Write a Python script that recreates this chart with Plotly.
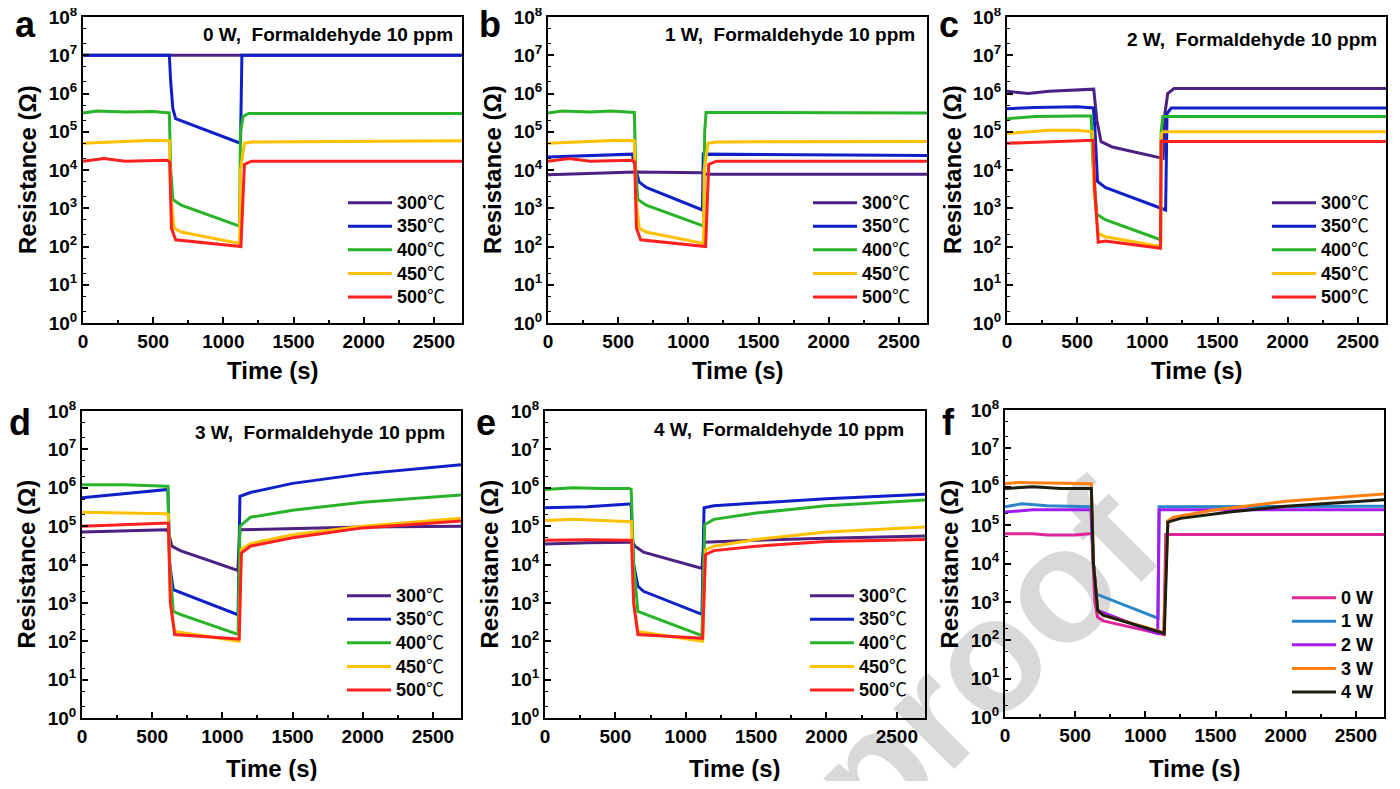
import plotly.graph_objects as go

# ---------------- data (time in s, resistance in ohm) ----------------
# panel a: 0 W
a300_t = [0, 2700]
a300_r = [1e7, 1e7]
a350_t = [0, 615, 625, 640, 660, 1115, 1122, 1132, 2700]
a350_r = [1e7, 1e7, 2e6, 4e5, 2.2e5, 5e4, 5e4, 1e7, 1e7]
a400_t = [0, 100, 300, 500, 615, 625, 640, 700, 1115, 1122, 1140, 1180, 2700]
a400_r = [3.1e5, 3.5e5, 3.3e5, 3.4e5, 3.1e5, 1e4, 1.7e3, 1.2e3, 3.4e2, 1e5, 2.5e5, 3e5, 3e5]
a450_t = [0, 300, 500, 615, 625, 650, 700, 1115, 1122, 1150, 1200, 2700]
a450_r = [5e4, 5.6e4, 6e4, 5.8e4, 2e3, 3e2, 2.4e2, 1.2e2, 1e4, 5e4, 5.4e4, 5.8e4]
a500_t = [0, 150, 300, 600, 618, 630, 660, 1120, 1125, 1150, 1200, 2700]
a500_r = [1.7e4, 2e4, 1.7e4, 1.8e4, 1.6e4, 3e2, 1.5e2, 1e2, 1e2, 1.4e4, 1.7e4, 1.7e4]

# panel b: 1 W
b300_t = [0, 300, 600, 620, 1100, 1110, 2700]
b300_r = [7.5e3, 8e3, 8.5e3, 8.8e3, 8.5e3, 7.8e3, 7.8e3]
b350_t = [0, 600, 625, 650, 700, 1095, 1100, 1106, 2700]
b350_r = [2.2e4, 2.6e4, 1e4, 4.8e3, 3.5e3, 9e2, 9e2, 2.6e4, 2.4e4]
b400_t = [0, 100, 300, 450, 615, 625, 640, 700, 1110, 1116, 1126, 2700]
b400_r = [3.1e5, 3.5e5, 3.3e5, 3.5e5, 3.2e5, 1e4, 1.7e3, 1.2e3, 3.4e2, 1e5, 3.2e5, 3.1e5]
b450_t = [0, 300, 500, 615, 625, 650, 700, 1108, 1113, 1140, 1200, 2700]
b450_r = [5e4, 5.6e4, 6e4, 5.8e4, 2e3, 3e2, 2.4e2, 1.2e2, 1e4, 5e4, 5.4e4, 5.6e4]
b500_t = [0, 150, 300, 600, 618, 630, 660, 1118, 1123, 1145, 1200, 2700]
b500_r = [1.7e4, 2e4, 1.7e4, 1.8e4, 1.6e4, 3e2, 1.5e2, 1e2, 1e2, 1.4e4, 1.7e4, 1.7e4]

# panel c: 2 W
c300_t = [0, 150, 300, 500, 610, 618, 640, 670, 750, 1095, 1112, 1125, 1145, 1190, 2700]
c300_r = [1.15e6, 1e6, 1.15e6, 1.25e6, 1.35e6, 1.3e6, 2e5, 5.5e4, 4e4, 2e4, 2e4, 3e5, 1e6, 1.35e6, 1.35e6]
c350_t = [0, 200, 500, 615, 625, 645, 700, 1100, 1122, 1130, 1140, 1170, 2700]
c350_r = [4e5, 4.3e5, 4.5e5, 4.2e5, 1.5e5, 5e3, 3.5e3, 1e3, 9e2, 9e2, 3e5, 4.2e5, 4.2e5]
c400_t = [0, 200, 500, 600, 610, 640, 700, 1095, 1098, 1110, 2700]
c400_r = [2.2e5, 2.5e5, 2.6e5, 2.6e5, 2e4, 7e2, 5e2, 1.5e2, 1e5, 2.5e5, 2.5e5]
c450_t = [0, 300, 500, 610, 620, 650, 700, 1095, 1100, 1110, 2700]
c450_r = [9e4, 1.1e5, 1.1e5, 1e5, 3e3, 2.2e2, 1.8e2, 1e2, 9e4, 1e5, 1e5]
c500_t = [0, 300, 600, 615, 625, 650, 700, 1093, 1098, 1110, 2700]
c500_r = [5e4, 5.5e4, 6e4, 6e4, 3e3, 1.3e2, 1.4e2, 9e1, 6e4, 5.6e4, 5.6e4]

# panel d: 3 W
d300_t = [0, 300, 600, 615, 640, 700, 1105, 1110, 1125, 1500, 2000, 2700]
d300_r = [7e4, 7.5e4, 8e4, 7e4, 3e4, 2.3e4, 7e3, 7e3, 8e4, 8.5e4, 9.5e4, 1e5]
d350_t = [0, 300, 600, 612, 625, 650, 1105, 1112, 1125, 1200, 1500, 2000, 2700]
d350_r = [5.5e5, 7e5, 9e5, 9e5, 1e4, 2.2e3, 5e2, 5e2, 6e5, 7.5e5, 1.3e6, 2.3e6, 4e6]
d400_t = [0, 300, 600, 612, 625, 650, 700, 1105, 1112, 1125, 1200, 1500, 2000, 2700]
d400_r = [1.2e6, 1.2e6, 1.1e6, 1.1e6, 1e4, 6e2, 5e2, 1.5e2, 1.5e2, 1e5, 1.7e5, 2.6e5, 4.2e5, 6.5e5]
d450_t = [0, 300, 600, 615, 630, 660, 1110, 1118, 1135, 1200, 1500, 2000, 2700]
d450_r = [2.3e5, 2.2e5, 2.1e5, 2e5, 1e3, 1.8e2, 1e2, 1e2, 2.5e4, 3.5e4, 6e4, 1e5, 1.6e5]
d500_t = [0, 300, 600, 615, 630, 660, 1115, 1120, 1135, 1200, 1500, 2000, 2700]
d500_r = [1e5, 1.1e5, 1.2e5, 1.2e5, 1e3, 1.5e2, 1.15e2, 1.15e2, 2e4, 3e4, 5e4, 9e4, 1.35e5]

# panel e: 4 W
e300_t = [0, 300, 600, 620, 640, 700, 1110, 1115, 1130, 1500, 2000, 2700]
e300_r = [3.4e4, 3.7e4, 3.8e4, 3.8e4, 3e4, 2.1e4, 8e3, 8e3, 3.8e4, 4.3e4, 4.8e4, 5.5e4]
e350_t = [0, 300, 600, 612, 630, 660, 700, 1110, 1115, 1130, 1200, 1500, 2000, 2700]
e350_r = [3e5, 3.2e5, 3.8e5, 3.8e5, 1e4, 2.7e3, 2e3, 5e2, 5e2, 3e5, 3.4e5, 4e5, 5.2e5, 6.8e5]
e400_t = [0, 200, 400, 600, 612, 630, 660, 1110, 1115, 1135, 1200, 1500, 2000, 2700]
e400_r = [9e5, 1e6, 9.5e5, 9.5e5, 9e5, 1e4, 6e2, 1.4e2, 1.4e2, 1.1e5, 1.5e5, 2.2e5, 3.4e5, 4.8e5]
e450_t = [0, 200, 400, 600, 615, 630, 660, 1115, 1120, 1140, 1200, 1500, 2000, 2700]
e450_r = [1.4e5, 1.5e5, 1.4e5, 1.3e5, 1.3e5, 1e3, 1.8e2, 1e2, 1e2, 2.4e4, 3e4, 4.5e4, 7e4, 9.5e4]
e500_t = [0, 300, 600, 615, 630, 660, 1115, 1120, 1140, 1200, 1500, 2000, 2700]
e500_r = [4.3e4, 4.4e4, 4.3e4, 4.3e4, 1e3, 1.5e2, 1.2e2, 1.2e2, 1.8e4, 2.3e4, 3e4, 4e4, 4.5e4]

# panel f: power comparison
f0_t = [0, 200, 300, 500, 600, 618, 640, 660, 700, 1125, 1132, 1145, 2700]
f0_r = [6e4, 6e4, 5.5e4, 5.5e4, 6e4, 6e4, 1e3, 4e2, 3.2e2, 1.4e2, 1.4e2, 5.7e4, 5.7e4]
f1_t = [0, 120, 300, 600, 615, 630, 650, 1085, 1090, 1098, 2700]
f1_r = [3e5, 3.6e5, 3.2e5, 3e5, 3e5, 1e4, 1.6e3, 3.8e2, 3.8e2, 3e5, 3.1e5]
f2_t = [0, 200, 600, 612, 630, 660, 1085, 1088, 1098, 2700]
f2_r = [2.2e5, 2.5e5, 2.5e5, 2.5e5, 1e4, 6e2, 1.5e2, 1.5e2, 2.5e5, 2.5e5]
f3_t = [0, 100, 300, 600, 615, 630, 660, 700, 1125, 1130, 1160, 1200, 1500, 2000, 2700]
f3_r = [1.2e6, 1.3e6, 1.25e6, 1.2e6, 1.2e6, 1e4, 6e2, 4.5e2, 1.6e2, 1.6e2, 1.3e5, 1.6e5, 2.5e5, 4.2e5, 6.5e5]
f4_t = [0, 200, 400, 600, 615, 630, 660, 700, 1130, 1135, 1160, 1250, 1600, 2000, 2700]
f4_r = [9e5, 1e6, 9e5, 9e5, 9e5, 1e4, 6e2, 4.5e2, 1.5e2, 1.5e2, 1.2e5, 1.5e5, 2.2e5, 3.1e5, 4.6e5]

temp_values = ["300", "350", "400", "450", "500"]
power_names = ["0 W", "1 W", "2 W", "3 W", "4 W"]
panel_letters = ["a", "b", "c", "d", "e", "f"]
panel_notes = ["0 W,  Formaldehyde 10 ppm", "1 W,  Formaldehyde 10 ppm",
               "2 W,  Formaldehyde 10 ppm", "3 W,  Formaldehyde 10 ppm",
               "4 W,  Formaldehyde 10 ppm", ""]
x_ticks = [0, 500, 1000, 1500, 2000, 2500]
y_exponents = [0, 1, 2, 3, 4, 5, 6, 7, 8]

temp_colors = ["#4B2182", "#1020C8", "#28B428", "#FFC000", "#FF2020"]
power_colors = ["#E0249A", "#2A86C8", "#A21CF2", "#FF8010", "#1E1E0E"]

panels = [
    [(a300_t, a300_r), (a350_t, a350_r), (a400_t, a400_r), (a450_t, a450_r), (a500_t, a500_r)],
    [(b300_t, b300_r), (b350_t, b350_r), (b400_t, b400_r), (b450_t, b450_r), (b500_t, b500_r)],
    [(c300_t, c300_r), (c350_t, c350_r), (c400_t, c400_r), (c450_t, c450_r), (c500_t, c500_r)],
    [(d300_t, d300_r), (d350_t, d350_r), (d400_t, d400_r), (d450_t, d450_r), (d500_t, d500_r)],
    [(e300_t, e300_r), (e350_t, e350_r), (e400_t, e400_r), (e450_t, e450_r), (e500_t, e500_r)],
    [(f0_t, f0_r), (f1_t, f1_r), (f2_t, f2_r), (f3_t, f3_r), (f4_t, f4_r)],
]

# ---------------- layout geometry (screen pixels of the 1400x789 view) ----------------
# the page body has an 8 px margin, so the figure is made 16 px smaller and
# every screen position is converted with an 8 px offset.
OFF = 8
W, H = 1400 - 2 * OFF, 789 - 2 * OFF
FONT = "Liberation Sans, Arial, sans-serif"
CJK = "Noto Sans CJK SC"
px_x = [(83, 462), (548, 927), (1007, 1386), (82, 461), (545, 925), (1005, 1384)]
px_y = [(17, 323), (17, 323), (17, 323), (411, 718), (411, 718), (410, 717)]
legend_pos = [(343, 186), (808, 186), (1267, 186), (342, 579), (805, 579), (1287, 581)]
letter_pos = [(13, 47), (477, 47), (937, 47), (7, 445), (474, 445), (940, 445)]
note_pos = [(455, 34), (917, 34), (1379, 40), (447, 432), (906, 429), None]
ytitle_x = [27, 492, 952, 26, 489, 949]
xtitle_y = [370, 370, 370, 768, 768, 768]

temp_names = ["<span style='font-size:18px'><b>%s</b></span>"
              "<span style='font-family:%s;font-size:18px'>℃</span>" % (v, CJK)
              for v in temp_values]
power_names_html = ["<span style='font-size:18px'><b>%s</b></span>" % p for p in power_names]


def fx(p):
    return (p - OFF) / W


def fy(p):
    return 1 - (p - OFF) / H


fig = go.Figure()
annotations = []
layout = {}

for i in range(6):
    sfx = "" if i == 0 else str(i + 1)
    names = power_names_html if i == 5 else temp_names
    colors = power_colors if i == 5 else temp_colors
    leg = "legend" + sfx
    for k, (t, r) in enumerate(panels[i]):
        fig.add_trace(go.Scatter(
            x=t, y=r, mode="lines", name=names[k],
            line=dict(color=colors[k], width=3),
            xaxis="x" + sfx, yaxis="y" + sfx, legend=leg, showlegend=True))
    x0, x1 = px_x[i]
    y0, y1 = px_y[i]
    layout["xaxis" + sfx] = dict(
        domain=[fx(x0), fx(x1)], anchor="y" + sfx, range=[0, 2700],
        tickvals=x_ticks, ticks="inside", ticklen=6, tickwidth=2, tickcolor="black",
        showline=True, linewidth=2, linecolor="black", mirror=True,
        showgrid=False, zeroline=False, ticklabeloverflow="allow",
        tickfont=dict(family=FONT, size=19, color="black", weight="bold"),
        minor=dict(tickvals=[250, 750, 1250, 1750, 2250], ticks="inside", ticklen=3,
                   tickwidth=1.5, tickcolor="black", showgrid=False),
    )
    layout["yaxis" + sfx] = dict(
        domain=[fy(y1), fy(y0)], anchor="x" + sfx, type="log", range=[0, 8],
        tickvals=[10 ** e for e in y_exponents],
        ticktext=["10<sup>%d</sup>" % e for e in y_exponents],
        ticks="inside", ticklen=6, tickwidth=2, tickcolor="black",
        showline=True, linewidth=2, linecolor="black", mirror=True,
        showgrid=False, zeroline=False, ticklabeloverflow="allow",
        tickfont=dict(family=FONT, size=19, color="black", weight="bold"),
        minor=dict(ticks="inside", ticklen=3, tickwidth=1, tickcolor="black", showgrid=False),
    )
    lx, ly = legend_pos[i]
    layout[leg] = dict(
        x=fx(lx), y=fy(ly), xanchor="left", yanchor="top",
        bgcolor="rgba(0,0,0,0)", borderwidth=0, itemwidth=44, tracegroupgap=0,
        font=dict(family=FONT, size=15.8, color="black"),
    )
    px_, py_ = letter_pos[i]
    annotations.append(dict(text=panel_letters[i], x=fx(px_), y=fy(py_), xref="paper", yref="paper",
                            xanchor="left", yanchor="bottom", showarrow=False,
                            font=dict(family=FONT, size=36, color="black", weight="bold")))
    if note_pos[i] is not None:
        nx, ny = note_pos[i]
        annotations.append(dict(text=panel_notes[i], x=fx(nx), y=fy(ny), xref="paper", yref="paper",
                                xanchor="right", yanchor="middle", showarrow=False,
                                font=dict(family=FONT, size=19, color="black", weight="bold")))
    annotations.append(dict(text="Resistance (Ω)", x=fx(ytitle_x[i]), y=fy((y0 + y1) / 2),
                            xref="paper", yref="paper", textangle=-90, xanchor="center",
                            yanchor="middle", showarrow=False,
                            font=dict(family=FONT, size=24, color="black", weight="bold")))
    annotations.append(dict(text="Time (s)", x=fx((x0 + x1) / 2), y=fy(xtitle_y[i]),
                            xref="paper", yref="paper", xanchor="center", yanchor="middle",
                            showarrow=False,
                            font=dict(family=FONT, size=24, color="black", weight="bold")))

watermark = dict(type="line", xref="paper", yref="paper",
                 x0=fx(866), y0=fy(756), x1=fx(1078), y1=fy(544),
                 line=dict(width=0, color="rgba(0,0,0,0)"), layer="below",
                 label=dict(text="proof", textposition="middle", yanchor="middle", padding=0,
                            font=dict(family=FONT, size=162, color="#d9d9d9", weight="bold")))

fig.update_layout(
    width=W, height=H, margin=dict(l=0, r=0, t=0, b=0, autoexpand=False),
    paper_bgcolor="white", plot_bgcolor="rgba(0,0,0,0)",
    annotations=annotations, shapes=[watermark], **layout,
)

fig.write_html("out.html")
